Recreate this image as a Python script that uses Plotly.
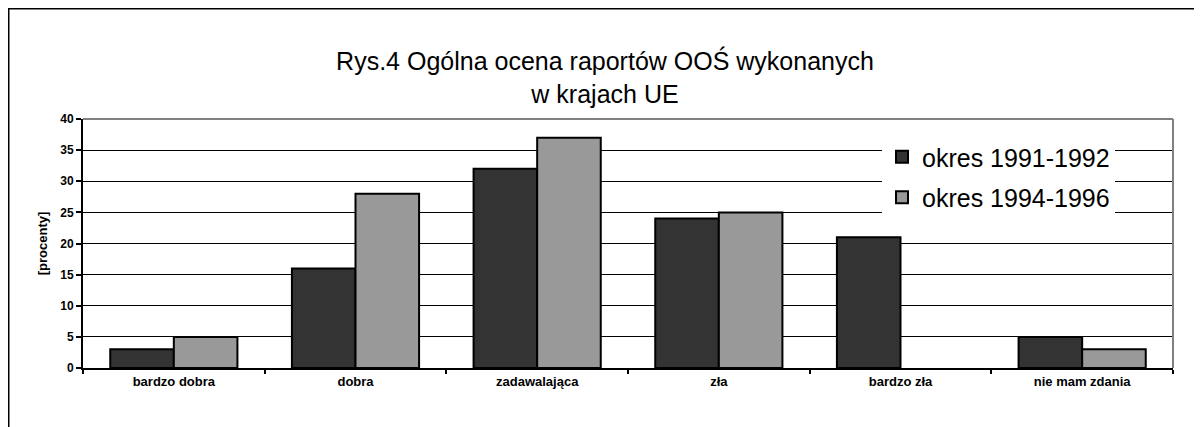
import plotly.graph_objects as go

categories = ["bardzo dobra", "dobra", "zadawalająca", "zła", "bardzo zła", "nie mam zdania"]
series_1991 = [3, 16, 32, 24, 21, 5]
series_1994 = [5, 28, 37, 25, 0, 3]
series_names = ["okres 1991-1992", "okres 1994-1996"]
title_text = "Rys.4 Ogólna ocena raportów OOŚ wykonanych<br>w krajach UE"
y_title = "[procenty]"
y_ticks = [0, 5, 10, 15, 20, 25, 30, 35, 40]

# page has an 8px body margin; figure sized to fill the remaining window
W, H = 1194, 419
L, R, T, B = 75, 29, 111, 59
pw, ph = W - L - R, H - T - B


def outline_widths(values):
    # no visible outline for zero-height bars
    return [2 if v else 0 for v in values]


fig = go.Figure()
fig.add_trace(go.Bar(x=categories, y=series_1991, name=series_names[0], legendgroup="a",
                     marker=dict(color="#333333",
                                 line=dict(color="black", width=outline_widths(series_1991)))))
fig.add_trace(go.Bar(x=categories, y=series_1994, name=series_names[1], legendgroup="b",
                     marker=dict(color="#999999",
                                 line=dict(color="black", width=outline_widths(series_1994)))))

xtickfont = dict(family="Liberation Sans, Arial", size=13, color="black", weight="bold")
ytickfont = dict(family="Liberation Sans, Arial", size=12, color="black", weight="bold")

fig.update_layout(
    width=W, height=H,
    margin=dict(l=L, r=R, t=T, b=B),
    paper_bgcolor="white", plot_bgcolor="white",
    barmode="group", bargap=0.3, bargroupgap=0,
    title=dict(text=title_text, x=0.5, xanchor="center", y=1 - 62 / H, yanchor="middle",
               font=dict(family="Liberation Sans, Arial", size=25, color="black")),
    showlegend=True,
    legend=dict(x=(874 - L) / pw, y=(T + ph - 126) / ph, xanchor="left", yanchor="top",
                bgcolor="white", borderwidth=0,
                font=dict(family="Liberation Sans, Arial", size=25, color="black"),
                itemwidth=30, tracegroupgap=5),
    xaxis=dict(type="category", showline=True, linecolor="black", linewidth=2,
               ticks="outside", ticklen=4, tickwidth=2, tickcolor="black",
               tickson="boundaries", tickfont=xtickfont, showgrid=False),
    yaxis=dict(range=[0, 40], tickvals=y_ticks, showline=True, linecolor="black", linewidth=2,
               ticks="outside", ticklen=5, tickwidth=2, tickcolor="black",
               showgrid=True, gridcolor="black", gridwidth=1, zeroline=False,
               tickfont=ytickfont,
               title=dict(text=y_title, standoff=10,
                          font=dict(family="Liberation Sans, Arial", size=13,
                                    color="black", weight="bold"))),
    shapes=[
        dict(type="line", xref="paper", yref="paper", x0=0, x1=1, y0=1, y1=1,
             line=dict(color="#808080", width=2), layer="above"),
        dict(type="line", xref="paper", yref="paper", x0=1, x1=1, y0=0, y1=1,
             line=dict(color="#808080", width=2), layer="above"),
        dict(type="rect", xref="paper", yref="paper",
             x0=(0.75 - L) / pw, x1=(W + 20 - L) / pw,
             y0=-(B + 20) / ph, y1=(T + ph - 0.75) / ph,
             line=dict(color="black", width=1.5), fillcolor="rgba(0,0,0,0)", layer="above"),
    ],
)

fig.write_html("out.html")
